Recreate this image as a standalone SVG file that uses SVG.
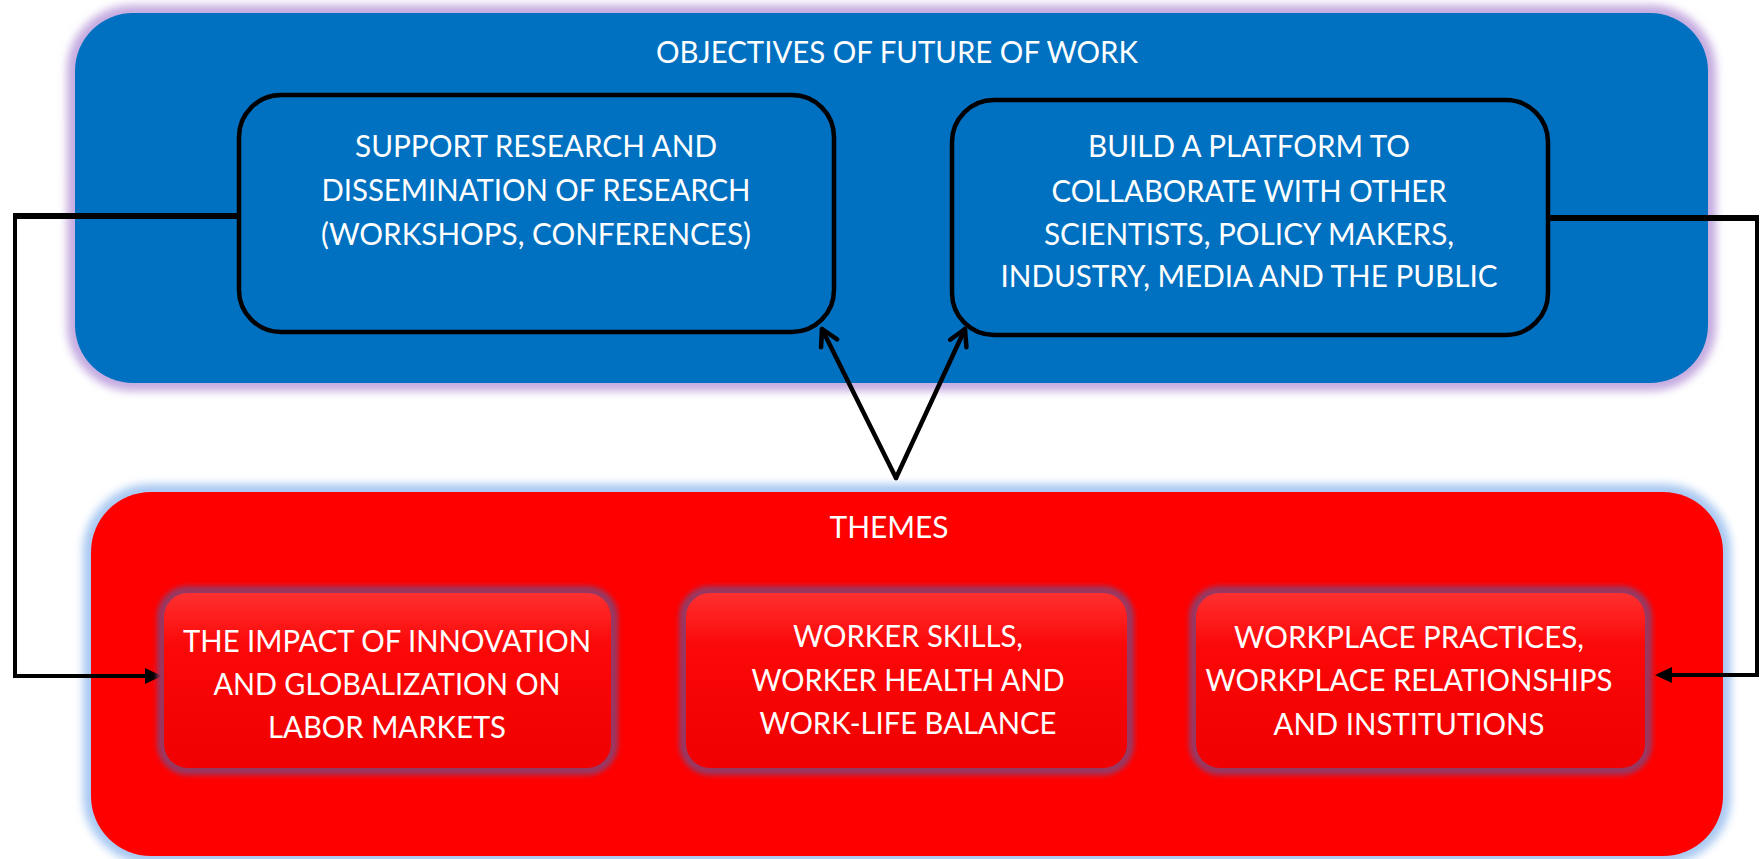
<svg xmlns="http://www.w3.org/2000/svg" width="1760" height="859" viewBox="0 0 1760 859">
<style>
.t{font-family:Lato,"Liberation Sans",sans-serif;font-size:31px;fill:#ffffff;text-anchor:middle}
.conn{fill:none;stroke:#000;stroke-linejoin:miter}
.ibox{fill:url(#redGloss)}
.iglow{fill:none;stroke:#983862;stroke-width:14;filter:url(#blur3)}
.bbox{fill:#0070c0;stroke:#000;stroke-width:4.5}
</style>
<defs>
<filter id="blur4" x="-5%" y="-10%" width="110%" height="120%"><feGaussianBlur stdDeviation="4"/></filter>
<filter id="blur3" x="-5%" y="-10%" width="110%" height="120%"><feGaussianBlur stdDeviation="2.5"/></filter>
<linearGradient id="redGloss" x1="0" y1="0" x2="0" y2="1">
<stop offset="0" stop-color="#ff3030"/>
<stop offset="0.3" stop-color="#fb0808"/>
<stop offset="1" stop-color="#f00000"/>
</linearGradient>
<marker id="open" markerUnits="userSpaceOnUse" markerWidth="30" markerHeight="30" viewBox="-20 -15 30 30" refX="0" refY="0" orient="auto" overflow="visible">
<path d="M-16,-9 L0,0 L-16,9" fill="none" stroke="#000" stroke-width="4.5" stroke-linecap="round" stroke-linejoin="round"/>
</marker>
<marker id="solid" markerUnits="userSpaceOnUse" markerWidth="20" markerHeight="20" viewBox="0 -10 20 20" refX="0" refY="0" orient="auto" overflow="visible">
<path d="M0,-8 L17,0 L0,8 z" fill="#000"/>
</marker>
</defs>
<rect width="1760" height="859" fill="#ffffff"/>

<g id="objectives">
<rect x="75" y="13" width="1633" height="370" rx="58" fill="none" stroke="#c4aae0" stroke-width="16" filter="url(#blur4)"/>
<rect x="75" y="13" width="1633" height="370" rx="58" fill="#0070c0"/>
<text class="t" x="897" y="63" textLength="482" lengthAdjust="spacingAndGlyphs">OBJECTIVES OF FUTURE OF WORK</text>
</g>

<g id="themes">
<rect x="91" y="492" width="1632" height="364" rx="60" fill="none" stroke="#a8c8f2" stroke-width="16" filter="url(#blur4)"/>
<rect x="91" y="492" width="1632" height="364" rx="60" fill="#fe0000"/>
<text class="t" x="889" y="538" textLength="119" lengthAdjust="spacingAndGlyphs">THEMES</text>
</g>

<g id="connectors">
<path class="conn" d="M237 216 L13 216" stroke-width="6"/>
<path class="conn" d="M15 214 L15 676 L145 676" stroke-width="4" marker-end="url(#solid)"/>
<path class="conn" d="M1550 218 L1759 218" stroke-width="6"/>
<path class="conn" d="M1757 216 L1757 675 L1672 675" stroke-width="4" marker-end="url(#solid)"/>
<path class="conn" d="M896 478 L822 329" stroke-width="4.5" stroke-linecap="round" marker-end="url(#open)"/>
<path class="conn" d="M896 478 L965 329" stroke-width="4.5" stroke-linecap="round" marker-end="url(#open)"/>
</g>

<g id="support-research">
<rect class="bbox" x="239" y="95" width="595" height="237" rx="42"/>
<text class="t" x="536" y="157" textLength="362" lengthAdjust="spacingAndGlyphs">SUPPORT RESEARCH AND</text>
<text class="t" x="536" y="201" textLength="429" lengthAdjust="spacingAndGlyphs">DISSEMINATION OF RESEARCH</text>
<text class="t" x="536" y="245" textLength="430" lengthAdjust="spacingAndGlyphs">(WORKSHOPS, CONFERENCES)</text>
</g>

<g id="build-platform">
<rect class="bbox" x="952" y="100" width="596" height="235" rx="42"/>
<text class="t" x="1249" y="157" textLength="322" lengthAdjust="spacingAndGlyphs">BUILD A PLATFORM TO</text>
<text class="t" x="1249" y="202" textLength="395" lengthAdjust="spacingAndGlyphs">COLLABORATE WITH OTHER</text>
<text class="t" x="1249" y="245" textLength="410" lengthAdjust="spacingAndGlyphs">SCIENTISTS, POLICY MAKERS,</text>
<text class="t" x="1249" y="287" textLength="497" lengthAdjust="spacingAndGlyphs">INDUSTRY, MEDIA AND THE PUBLIC</text>
</g>

<g id="theme-innovation">
<rect class="iglow" x="164" y="593" width="447" height="175" rx="24"/>
<rect class="ibox" x="164" y="593" width="447" height="175" rx="24"/>
<text class="t" x="387" y="652" textLength="408" lengthAdjust="spacingAndGlyphs">THE IMPACT OF INNOVATION</text>
<text class="t" x="387" y="695" textLength="347" lengthAdjust="spacingAndGlyphs">AND GLOBALIZATION ON</text>
<text class="t" x="387" y="738" textLength="238" lengthAdjust="spacingAndGlyphs">LABOR MARKETS</text>
</g>

<g id="theme-worker">
<rect class="iglow" x="686" y="593" width="441" height="175" rx="24"/>
<rect class="ibox" x="686" y="593" width="441" height="175" rx="24"/>
<text class="t" x="908" y="647" textLength="230" lengthAdjust="spacingAndGlyphs">WORKER SKILLS,</text>
<text class="t" x="908" y="691" textLength="313" lengthAdjust="spacingAndGlyphs">WORKER HEALTH AND</text>
<text class="t" x="908" y="734" textLength="297" lengthAdjust="spacingAndGlyphs">WORK-LIFE BALANCE</text>
</g>

<g id="theme-workplace">
<rect class="iglow" x="1196" y="593" width="449" height="175" rx="24"/>
<rect class="ibox" x="1196" y="593" width="449" height="175" rx="24"/>
<text class="t" x="1409" y="648" textLength="350" lengthAdjust="spacingAndGlyphs">WORKPLACE PRACTICES,</text>
<text class="t" x="1409" y="691" textLength="407" lengthAdjust="spacingAndGlyphs">WORKPLACE RELATIONSHIPS</text>
<text class="t" x="1409" y="735" textLength="271" lengthAdjust="spacingAndGlyphs">AND INSTITUTIONS</text>
</g>
</svg>
